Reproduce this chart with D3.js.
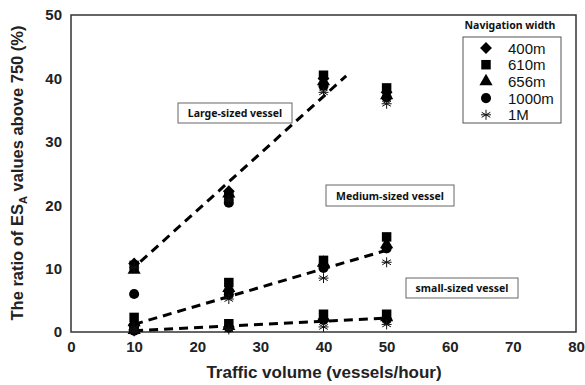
<!DOCTYPE html>
<html><head><meta charset="utf-8">
<script src="https://cdn.jsdelivr.net/npm/d3@7"></script>
<style>body{margin:0;background:#fff}svg{display:block}</style>
</head><body>
<script>
const traffic = [10, 25, 40, 50];
const widths = ["400m", "610m", "656m", "1000m", "1M"];
// large-sized vessel values per navigation width
const large400 = [10.8, 22.2, 40.0, 37.8];
const large610 = [10.5, 21.5, 40.5, 38.5];
const large656 = [9.8, 21.8, 39.5, 37.3];
const large1000 = [6.0, 20.4, 38.8, 37.0];
const large1M = [10.2, 20.8, 37.8, 36.0];
// medium-sized vessel
const medium400 = [1.2, 6.4, 10.5, 13.3];
const medium610 = [2.3, 7.8, 11.3, 15.0];
const medium656 = [1.5, 6.9, 10.9, 13.8];
const medium1000 = [0.9, 5.9, 10.1, 13.2];
const medium1M = [0.6, 5.2, 8.5, 11.0];
// small-sized vessel
const small400 = [0.3, 0.8, 2.0, 2.0];
const small610 = [0.6, 1.3, 2.8, 2.8];
const small656 = [0.3, 0.9, 2.2, 2.3];
const small1000 = [0.2, 0.7, 1.9, 2.0];
const small1M = [0.1, 0.4, 0.8, 1.2];
// trend lines [x, y]
const trendLarge = [[11, 11.1], [43.6, 40.4]];
const trendMedium = [[10, 1.2], [50, 12.9]];
const trendSmall = [[10, 0.2], [50, 2.2]];
const xTicks = [0, 10, 20, 30, 40, 50, 60, 70, 80];
const yTicks = [0, 10, 20, 30, 40, 50];
const labels = ["Large-sized vessel", "Medium-sized vessel", "small-sized vessel"];

const series = [
  [large400, medium400, small400],
  [large610, medium610, small610],
  [large656, medium656, small656],
  [large1000, medium1000, small1000],
  [large1M, medium1M, small1M]
];

const W = 585, H = 385;
const m = {l: 71, r: 9, t: 15, b: 53};
const svg = d3.select("body").append("svg").attr("width", W).attr("height", H);
const x = d3.scaleLinear().domain([0, 80]).range([m.l, W - m.r]);
const y = d3.scaleLinear().domain([0, 50]).range([H - m.b, m.t]);

// frame
svg.append("rect").attr("x", m.l).attr("y", m.t).attr("width", W - m.r - m.l).attr("height", H - m.b - m.t)
  .attr("fill", "none").attr("stroke", "#333").attr("stroke-width", 1.5);

const font = "Liberation Sans, Arial, sans-serif";
const gx = svg.append("g").attr("transform", `translate(0,${H - m.b})`)
  .call(d3.axisBottom(x).tickValues(xTicks).tickSize(0).tickPadding(6).tickFormat(d3.format("d")));
const gy = svg.append("g").attr("transform", `translate(${m.l},0)`)
  .call(d3.axisLeft(y).tickValues(yTicks).tickSize(0).tickPadding(9).tickFormat(d3.format("d")));
[gx, gy].forEach(g => {
  g.select(".domain").remove();
  g.selectAll("text").attr("font-family", font).attr("font-size", 15).attr("font-weight", "bold").attr("fill", "#222");
});
gx.selectAll("text").attr("dy", "0.95em");

// axis titles
svg.append("text").attr("x", 324).attr("y", 378).attr("text-anchor", "middle")
  .attr("font-family", font).attr("font-size", 17).attr("font-weight", "bold").attr("fill", "#222")
  .text("Traffic volume (vessels/hour)");
const yt = svg.append("text").attr("transform", "translate(23,173) rotate(-90)").attr("text-anchor", "middle")
  .attr("font-family", font).attr("font-size", 16.5).attr("font-weight", "bold").attr("fill", "#222");
yt.append("tspan").text("The ratio of ES");
yt.append("tspan").attr("font-size", 11).attr("dy", 4).text("A");
yt.append("tspan").attr("dy", -4).text(" values above 750 (%)");

// trend lines
const line = d3.line().x(d => x(d[0])).y(d => y(d[1]));
[trendLarge, trendMedium, trendSmall].forEach(t => {
  svg.append("path").attr("d", line(t)).attr("fill", "none").attr("stroke", "#000")
    .attr("stroke-width", 3).attr("stroke-dasharray", "9,6");
});

// markers
function marker(sel, i) {
  if (i === 0) sel.append("path").attr("d", d3.symbol(d3.symbolSquare, 70)()).attr("transform", "rotate(45)").attr("fill", "#000");
  else if (i === 1) sel.append("path").attr("d", d3.symbol(d3.symbolSquare, 90)()).attr("fill", "#000");
  else if (i === 2) sel.append("path").attr("d", d3.symbol(d3.symbolTriangle, 75)()).attr("fill", "#000");
  else if (i === 3) sel.append("path").attr("d", d3.symbol(d3.symbolCircle, 80)()).attr("fill", "#000");
  else {
    sel.append("path").attr("d", d3.symbol(d3.symbolAsterisk, 70)()).attr("fill", "none").attr("stroke", "#111").attr("stroke-width", 1);
    sel.append("path").attr("d", "M-5,0H5").attr("stroke", "#111").attr("stroke-width", 1);
  }
}
series.forEach((grp, i) => {
  grp.forEach(vals => {
    vals.forEach((v, j) => {
      const g = svg.append("g").attr("transform", `translate(${x(traffic[j])},${y(v)})`);
      marker(g, i);
    });
  });
});

// category label boxes
const boxes = [[178, 103, 114, 20], [326, 185, 128, 21], [406, 278, 112, 20]];
labels.forEach((t, i) => {
  const b = boxes[i];
  svg.append("rect").attr("x", b[0]).attr("y", b[1]).attr("width", b[2]).attr("height", b[3])
    .attr("fill", "#fff").attr("stroke", "#666").attr("stroke-width", 1);
  svg.append("text").attr("x", b[0] + b[2] / 2).attr("y", b[1] + b[3] / 2 + 4).attr("text-anchor", "middle")
    .attr("font-family", "Noto Sans, sans-serif").attr("font-size", 10.5).attr("font-weight", "bold").attr("fill", "#111").text(t);
});

// legend
svg.append("text").attr("x", 510).attr("y", 29).attr("text-anchor", "middle")
  .attr("font-family", "Noto Sans, sans-serif").attr("font-size", 10.5).attr("font-weight", "bold").attr("fill", "#111")
  .text("Navigation width");
svg.append("rect").attr("x", 463).attr("y", 37).attr("width", 98).attr("height", 86)
  .attr("fill", "#fff").attr("stroke", "#555").attr("stroke-width", 1);
widths.forEach((w, i) => {
  const yy = 48 + i * 16.7;
  const g = svg.append("g").attr("transform", `translate(486,${yy})`);
  marker(g, i);
  svg.append("text").attr("x", 508).attr("y", yy + 5.5).attr("font-family", font).attr("font-size", 15).attr("fill", "#111").text(w);
});
</script>
</body></html>
